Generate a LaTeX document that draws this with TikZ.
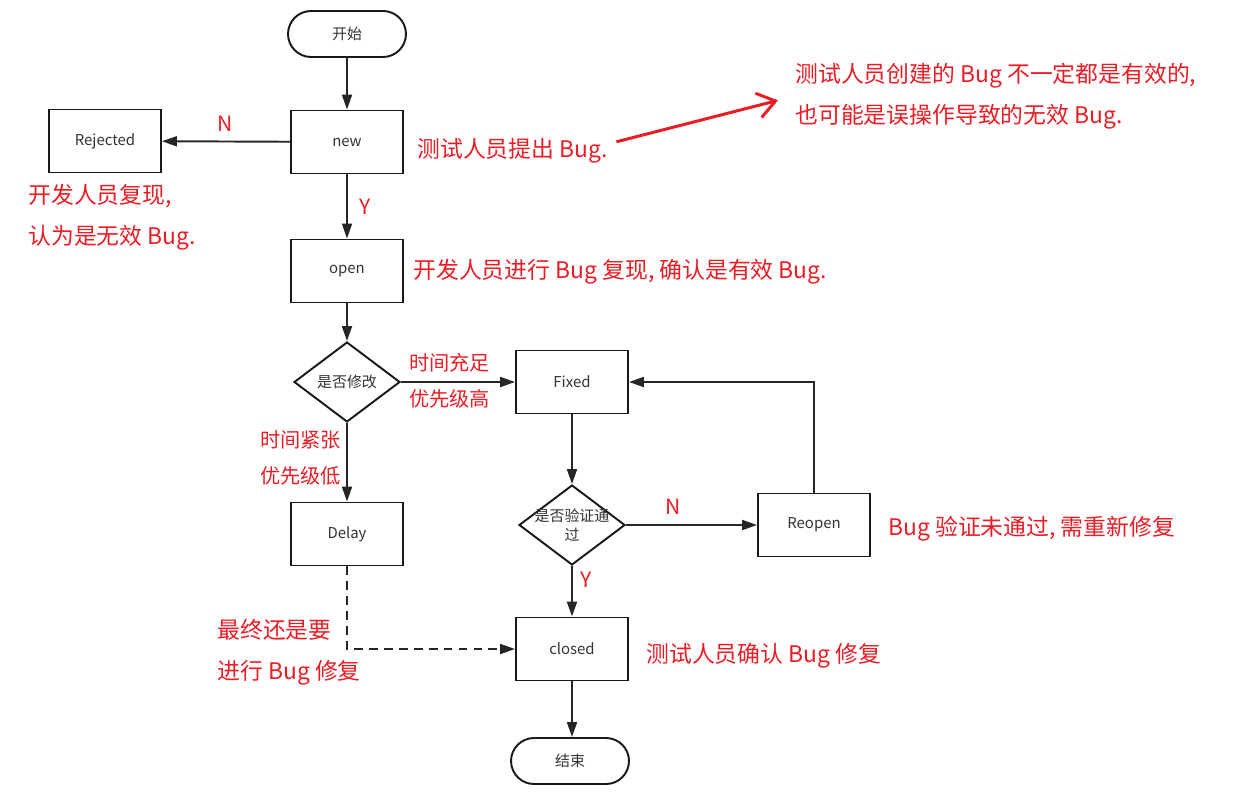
\documentclass[tikz,border=0pt]{standalone}
\usepackage{fontspec}
\newfontfamily\cjk{Noto Sans CJK SC}
\usetikzlibrary{arrows.meta,positioning,shapes.geometric,shapes.misc}
\definecolor{notered}{RGB}{235,28,36}
\definecolor{boxtext}{RGB}{51,51,51}
\tikzset{
  flow box/.style={rectangle,draw=black!90,line width=1.1pt,minimum width=2.24cm,minimum height=1.26cm,inner sep=0pt,font=\cjk\fontsize{8.5pt}{10pt}\selectfont,text=boxtext},
  flow term/.style={flow box,rounded rectangle,minimum width=2.36cm,minimum height=0.92cm},
  flow check/.style={diamond,draw=black!90,line width=1.1pt,minimum width=2.12cm,minimum height=1.6cm,inner sep=0pt},
  check text/.style={align=center,inner sep=0pt,font=\cjk\fontsize{8.5pt}{11pt}\selectfont,text=boxtext},
  flow edge/.style={-{Triangle[length=3mm,width=2mm]},line width=1.1pt,draw=black!85},
  flow wait/.style={flow edge,dash pattern=on 5pt off 3.5pt},
  mark arrow/.style={-{Straight Barb[length=3.5mm,width=5mm]},line width=1.7pt,notered},
  note/.style={anchor=west,inner sep=0pt,align=left,text=notered,font=\cjk\fontsize{13pt}{23.3pt}\selectfont},
  yes no/.style={inner sep=0pt,text=notered,font=\cjk\fontsize{12pt}{14pt}\selectfont},
}

\begin{document}
\begin{tikzpicture}[x=0.02cm,y=-0.02cm]
  \useasboundingbox (0,0) rectangle (1256,804);
  % main flow
  \node[flow term] (start) at (347,34) {开始};
  \node[flow box] (new) at (347,142) {new};
  \node[flow box] (rejected) at (105,141) {Rejected};
  \node[flow box] (open) at (347,271) {open};
  \node[flow check,label={[check text]center:是否修改}] (fixchk) at (347,382) {};
  \node[flow box] (fixed) at (572,382) {Fixed};
  \node[flow box] (delay) at (347,534) {Delay};
  \node[flow check,label={[check text]center:是否验证通\\过}] (passchk) at (572,525) {};
  \node[flow box] (reopen) at (814,525) {Reopen};
  \node[flow box] (closed) at (572,649) {closed};
  \node[flow term] (end) at (570,761) {结束};

  \draw[flow edge] (start) -- (new);
  \draw[flow edge] (new) -- (rejected);
  \draw[flow edge] (new) -- (open);
  \draw[flow edge] (open) -- (fixchk);
  \draw[flow edge] (fixchk) -- (fixed);
  \draw[flow edge] (fixchk) -- (delay);
  \draw[flow edge] (fixed) -- (passchk);
  \draw[flow edge] (passchk) -- (reopen);
  \draw[flow edge] (reopen) |- (fixed);
  \draw[flow edge] (passchk) -- (closed);
  \draw[flow wait] (delay) |- (closed);
  \draw[flow edge] (closed) -- (closed |- end.north);

  \node[yes no] (lbl n1) at (225,124) {N};
  \node[yes no] (lbl y1) at (365,207) {Y};
  \node[yes no] (lbl n2) at (673,507) {N};
  \node[yes no] (lbl y2) at (586,580) {Y};

  % red remarks
  \node[note] (note new) at (417,151) {测试人员提出 Bug.};
  \node[note] (note create) at (795,96) {测试人员创建的 Bug 不一定都是有效的,\\也可能是误操作导致的无效 Bug.};
  \node[note] (note reject) at (28,217) {开发人员复现,\\认为是无效 Bug.};
  \node[note] (note open) at (413,272) {开发人员进行 Bug 复现, 确认是有效 Bug.};
  \node[note,font=\cjk\fontsize{11.5pt}{20.5pt}\selectfont] (note enough) at (409,381) {时间充足\\优先级高};
  \node[note,font=\cjk\fontsize{11.5pt}{20.5pt}\selectfont] (note tight) at (260,458) {时间紧张\\优先级低};
  \node[note] (note reopen) at (888,529) {Bug 验证未通过, 需重新修复};
  \node[note] (note final) at (217,652) {最终还是要\\进行 Bug 修复};
  \node[note] (note closed) at (646,656) {测试人员确认 Bug 修复};

  \draw[mark arrow,shorten <=5pt,shorten >=10pt] ([yshift=4pt]note new.east) -- (note create.west);
\end{tikzpicture}
\end{document}
